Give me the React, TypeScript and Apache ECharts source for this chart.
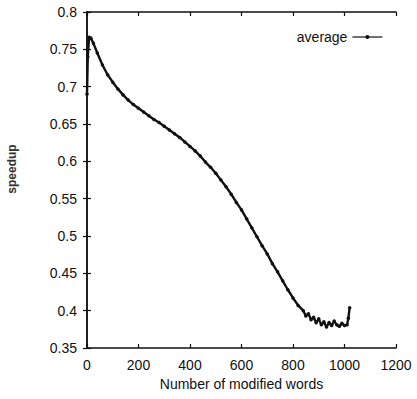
import React, { useEffect, useRef } from "react";
import * as echarts from "echarts";

const wordCounts = [
  0, 3, 8, 15, 25, 40, 60, 80, 100, 120, 140, 160, 180, 200, 220, 240, 260, 280,
  300, 320, 340, 360, 380, 400, 420, 440, 460, 480, 500, 520, 540, 560, 580, 600,
  620, 640, 660, 680, 700, 720, 740, 760, 780, 800, 820, 840, 850, 860, 870, 880,
  890, 900, 910, 920, 930, 940, 950, 960, 970, 980, 990, 1000, 1010, 1015, 1020,
];
const speedups = [
  0.69, 0.74, 0.766, 0.765, 0.758, 0.745, 0.729, 0.716, 0.706, 0.697, 0.689,
  0.682, 0.676, 0.671, 0.666, 0.661, 0.656, 0.652, 0.647, 0.642, 0.637, 0.632,
  0.626, 0.62, 0.614, 0.607, 0.599, 0.592, 0.584, 0.575, 0.566, 0.556, 0.545,
  0.535, 0.523, 0.511, 0.499, 0.487, 0.476, 0.463, 0.452, 0.44, 0.428, 0.417,
  0.407, 0.4, 0.393, 0.396, 0.388, 0.391, 0.384, 0.389, 0.381, 0.385, 0.378,
  0.384, 0.38, 0.386, 0.381, 0.379, 0.383, 0.38, 0.381, 0.39, 0.404,
];
const seriesName = "average";
const xTitle = "Number of modified words";
const yTitle = "speedup";

const font = "'Liberation Sans', Arial, sans-serif";
const ink = "#111";

export default function App() {
  const ref = useRef<HTMLDivElement>(null);
  useEffect(() => {
    document.body.style.margin = "0";
    const chart = echarts.init(ref.current!, null, { renderer: "svg" });
    const axisCommon = {
      axisLine: { show: true, lineStyle: { color: ink, width: 1.5 } },
      axisTick: { show: true, inside: true, length: 4, lineStyle: { color: ink, width: 1.2 } },
      splitLine: { show: false },
    };
    chart.setOption({
      animation: false,
      backgroundColor: "#fff",
      textStyle: { fontFamily: font },
      grid: { left: 87, right: 21, top: 12, bottom: 51 },
      legend: {
        data: [seriesName],
        right: 29,
        top: 25,
        align: "right",
        itemWidth: 30,
        itemHeight: 5,
        itemGap: 4,
        lineStyle: { width: 1.2 },
        textStyle: { fontSize: 14, color: ink, fontFamily: font },
      },
      graphic: [
        {
          type: "text",
          x: 12,
          y: 169,
          rotation: Math.PI / 2,
          style: {
            text: yTitle,
            font: `600 12px ${font}`,
            fill: "#333",
            align: "center",
            verticalAlign: "middle",
          },
        },
      ],
      xAxis: [
        {
          type: "value",
          min: 0,
          max: 1200,
          interval: 200,
          position: "bottom",
          ...axisCommon,
          axisLabel: {
            color: ink,
            fontSize: 14,
            margin: 10,
            fontFamily: font,
            formatter: (v: number) => String(v),
          },
          name: xTitle,
          nameLocation: "middle",
          nameGap: 27,
          nameTextStyle: { color: ink, fontSize: 14, fontFamily: font },
        },
        {
          type: "value",
          min: 0,
          max: 1200,
          interval: 200,
          position: "top",
          ...axisCommon,
          axisLabel: { show: false },
        },
      ],
      yAxis: [
        {
          type: "value",
          min: 0.35,
          max: 0.8,
          interval: 0.05,
          position: "left",
          ...axisCommon,
          axisLabel: {
            color: ink,
            fontSize: 14,
            margin: 10,
            fontFamily: font,
            formatter: (v: number) => String(parseFloat(v.toFixed(2))),
          },
        },
        {
          type: "value",
          min: 0.35,
          max: 0.8,
          interval: 0.05,
          position: "right",
          ...axisCommon,
          axisLabel: { show: false },
        },
      ],
      series: [
        {
          name: seriesName,
          type: "line",
          xAxisIndex: 0,
          yAxisIndex: 0,
          data: wordCounts.map((x, i) => [x, speedups[i]]),
          symbol: "circle",
          symbolSize: 3.5,
          showSymbol: true,
          showAllSymbol: true,
          lineStyle: { color: ink, width: 2.4 },
          itemStyle: { color: ink },
        },
      ],
    });
    return () => chart.dispose();
  }, []);
  return (
    <div
      ref={ref}
      style={{ width: 417, height: 399, position: "absolute", left: 0, top: 0 }}
    />
  );
}
